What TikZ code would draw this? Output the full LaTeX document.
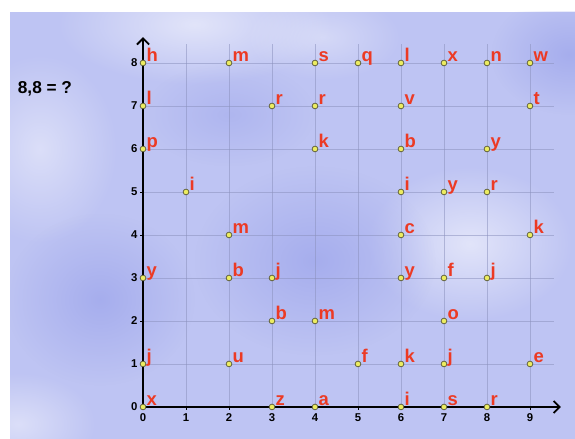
\documentclass[tikz,border=0pt]{standalone}
\usepackage{fontspec}
\setmainfont{Liberation Sans}
\usetikzlibrary{arrows.meta,fadings}

\definecolor{bgblue}{RGB}{190,196,243}
\definecolor{bgdark}{RGB}{160,168,236}
\definecolor{gridgray}{RGB}{140,146,190}
\definecolor{ptfill}{RGB}{236,236,96}
\definecolor{ptedge}{RGB}{95,95,60}
\definecolor{lblred}{RGB}{236,58,36}

\tikzfading[name=softblob, inner color=transparent!0, outer color=transparent!100]

\begin{document}
\begin{tikzpicture}[x=1cm, y=1cm,
  pt/.style={circle, draw=ptedge, fill=ptfill, line width=0.5pt, inner sep=0pt, minimum size=3.8pt},
  lbl/.style={anchor=base west, inner sep=0pt, text=lblred, font=\fontsize{12.2}{13}\selectfont\bfseries},
  ticklbl/.style={inner sep=0pt, font=\fontsize{7.5}{8}\selectfont\bfseries},
  axis/.style={line width=1.2pt, -{Straight Barb[length=4pt, width=8pt]}},
  blob/.style={path fading=softblob}]

  % frame and background
  \useasboundingbox[fill=white] (-3.326,-0.744) rectangle (10.047,9.465);
  \fill[bgblue] (-3.093,-0.744) rectangle (10.047,9.186);
  \begin{scope}
    \clip (-3.093,-0.744) rectangle (10.047,9.186);
    \fill[white, opacity=0.55, blob] (1.2,8.9) ellipse (3.2 and 1.4);
    \fill[white, opacity=0.45, blob] (-2.4,6.0) ellipse (1.8 and 2.2);
    \fill[white, opacity=0.55, blob] (7.6,3.8) ellipse (2.4 and 1.8);
    \fill[white, opacity=0.45, blob] (-2.9,-0.4) ellipse (1.8 and 1.2);
    \fill[white, opacity=0.35, blob] (4.2,8.6) ellipse (1.8 and 1.0);
    \fill[bgdark, opacity=0.8, blob] (-1.0,2.5) ellipse (2.2 and 2.0);
    \fill[bgdark, opacity=0.8, blob] (4.0,3.4) ellipse (2.8 and 2.2);
    \fill[bgdark, opacity=0.8, blob] (9.9,8.2) ellipse (1.8 and 1.4);
    \fill[bgdark, opacity=0.5, blob] (2.0,6.8) ellipse (2.0 and 1.2);
  \end{scope}

  % grid
  \foreach \i in {1,...,9}
    \draw[gridgray, opacity=0.55, line width=0.6pt] (\i,0) -- (\i,8.44);
  \foreach \j in {1,...,8}
    \draw[gridgray, opacity=0.55, line width=0.6pt] (0,\j) -- (9.56,\j);

  % axes
  \coordinate (o) at (0,0);
  \coordinate (xend) at (9.72,0);
  \coordinate (yend) at (0,8.6);
  \draw[axis] (o) -- (xend);
  \draw[axis] (o) -- (yend);
  \foreach \i in {1,...,9}
    \draw[line width=0.6pt] (\i,0) -- (\i,-0.07);
  \foreach \j in {1,...,8}
    \draw[line width=0.6pt] (0,\j) -- (-0.08,\j);
  \foreach \i in {0,...,9}
    \node[ticklbl] (xl\i) at (\i,-0.25) {\i};
  \foreach \j in {0,...,8}
    \node[ticklbl, anchor=east] (yl\j) at (-0.12,\j) {\j};

  \node[inner sep=0pt, font=\fontsize{11.4}{12}\selectfont\bfseries] (question) at (-2.28,7.395) {8,8 = ?};

  % letters
  \foreach \x/\y/\l in {0/8/h, 2/8/m, 4/8/s, 5/8/q, 6/8/l, 7/8/x, 8/8/n, 9/8/w,
                        0/7/l, 3/7/r, 4/7/r, 6/7/v, 9/7/t,
                        0/6/p, 4/6/k, 6/6/b, 8/6/y,
                        1/5/i, 6/5/i, 7/5/y, 8/5/r,
                        2/4/m, 6/4/c, 9/4/k,
                        0/3/y, 2/3/b, 3/3/j, 6/3/y, 7/3/f, 8/3/j,
                        3/2/b, 4/2/m, 7/2/o,
                        0/1/j, 2/1/u, 5/1/f, 6/1/k, 7/1/j, 9/1/e,
                        0/0/x, 3/0/z, 4/0/a, 6/0/i, 7/0/s, 8/0/r}{
    \node[pt] (p\x-\y) at (\x,\y) {};
    \node[lbl] (t\x-\y) at ([shift={(0.08,0.03)}]p\x-\y.center) {\l};
  }
\end{tikzpicture}
\end{document}
